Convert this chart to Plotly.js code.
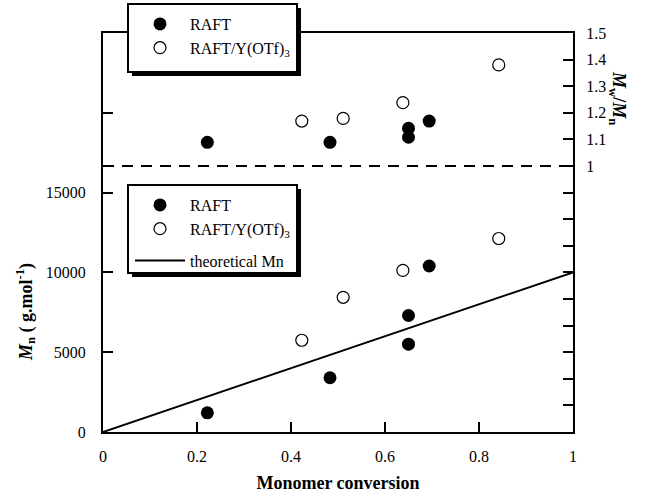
<!DOCTYPE html>
<html><head><meta charset="utf-8">
<script src="https://cdn.plot.ly/plotly-3.0.1.min.js"></script>
<style>body{margin:0;background:#fff}</style>
</head><body>
<div id="chart" style="width:645px;height:495px"></div>
<script>
// Data
const conversionRaft = [0.222, 0.483, 0.650, 0.650, 0.694];
const mnRaft = [1200, 3400, 5500, 7300, 10400];
const pdiRaft = [1.089, 1.089, 1.108, 1.142, 1.169];
const conversionY = [0.423, 0.511, 0.638, 0.842];
const mnY = [5750, 8440, 10125, 12125];
const pdiY = [1.169, 1.179, 1.238, 1.380];
const theoryX = [0, 1];
const theoryMn = [0, 10000];
const refX = [0, 1];
const refPdi = [1, 1];
const xTicks = [0, 0.2, 0.4, 0.6, 0.8, 1];
const xTickText = ['0', '0.2', '0.4', '0.6', '0.8', '1'];
const yTicks = [0, 5000, 10000, 15000, 20000];
const yTickText = ['0', '5000', '10000', '15000', ''];
const y2Ticks = [0,0.1,0.2,0.3,0.4,0.5,0.6,0.7,0.8,0.9,1,1.1,1.2,1.3,1.4,1.5];
const y2TickText = ['','','','','','','','','','','1','1.1','1.2','1.3','1.4','1.5'];

const F = 'Liberation Serif, Times New Roman, serif';
const W = 645, H = 495;
const px = p => (p - 103) / 470, py = p => (432 - p) / 399;

const filled = {color: 'black', size: 13, symbol: 'circle'};
const open = {color: 'black', size: 12, symbol: 'circle-open', line: {width: 1.2, color: 'black'}};

const traces = [
  {x: refX, y: refPdi, yaxis: 'y2', mode: 'lines', line: {color: 'black', width: 2, dash: '11px,8px'}, showlegend: false, hoverinfo: 'skip'},
  {x: theoryX, y: theoryMn, mode: 'lines', name: 'theoretical Mn', line: {color: 'black', width: 2}, legend: 'legend2', legendgroup: 'th', legendrank: 3},
  {x: conversionRaft, y: mnRaft, mode: 'markers', name: 'RAFT', marker: filled, legend: 'legend2', legendgroup: 'pts', legendrank: 1},
  {x: conversionY, y: mnY, mode: 'markers', name: 'RAFT/Y(OTf)<sub>3</sub>', marker: open, legend: 'legend2', legendgroup: 'pts', legendrank: 2},
  {x: conversionRaft, y: pdiRaft, yaxis: 'y2', mode: 'markers', name: 'RAFT', marker: filled, legend: 'legend', legendrank: 1},
  {x: conversionY, y: pdiY, yaxis: 'y2', mode: 'markers', name: 'RAFT/Y(OTf)<sub>3</sub>', marker: open, legend: 'legend', legendrank: 2}
];

const axisCommon = {
  ticks: 'inside', ticklen: 10, tickwidth: 2, tickcolor: 'black',
  showline: true, linewidth: 2, linecolor: 'black',
  showgrid: false, zeroline: false,
  tickfont: {family: F, size: 16, color: 'black'}
};

function box(x0, y0, x1, y1) {
  return [
    {type: 'rect', xref: 'paper', yref: 'paper', layer: 'above',
     x0: px(x0 + 4), x1: px(x1 + 4), y0: py(y1 + 4), y1: py(y0 + 4),
     fillcolor: 'black', line: {width: 0}},
    {type: 'rect', xref: 'paper', yref: 'paper', layer: 'above',
     x0: px(x0), x1: px(x1), y0: py(y1), y1: py(y0),
     fillcolor: 'white', line: {width: 2, color: 'black'}}
  ];
}

const legendCommon = {
  bgcolor: 'rgba(0,0,0,0)', borderwidth: 0,
  font: {family: F, size: 16, color: 'black'},
  xref: 'paper', yref: 'paper', xanchor: 'left', yanchor: 'top', itemwidth: 50
};

const layout = {
  width: W, height: H,
  margin: {l: 103, r: 72, t: 33, b: 63, autoexpand: false},
  paper_bgcolor: 'white', plot_bgcolor: 'white',
  showlegend: true,
  xaxis: Object.assign({}, axisCommon, {
    range: [0, 1], tickvals: xTicks, ticktext: xTickText, mirror: true, ticklabelstandoff: 9,
    title: {text: '<b>Monomer conversion</b>', font: {family: F, size: 18, color: 'black'}, standoff: 12}
  }),
  yaxis: Object.assign({}, axisCommon, {
    range: [0, 25000], tickvals: yTicks, ticktext: yTickText, ticklabelstandoff: 12
  }),
  yaxis2: Object.assign({}, axisCommon, {
    overlaying: 'y', side: 'right', range: [0, 1.5], tickvals: y2Ticks, ticktext: y2TickText, ticklabelstandoff: 8
  }),
  legend: Object.assign({}, legendCommon, {x: px(130), y: py(7), traceorder: 'normal'}),
  legend2: Object.assign({}, legendCommon, {x: px(130), y: py(188), traceorder: 'grouped', tracegroupgap: 8}),
  shapes: [].concat(box(128, 4, 297, 72), box(128, 185, 297, 273)),
  annotations: [
    {xref: 'paper', yref: 'paper', x: px(25), y: py(312), xanchor: 'center', yanchor: 'middle', showarrow: false, textangle: -90,
     text: '<b><i>M</i><sub>n</sub> ( g.mol<sup>-1</sup>)</b>', font: {family: F, size: 18, color: 'black'}},
    {xref: 'paper', yref: 'paper', x: px(618), y: py(98), xanchor: 'center', yanchor: 'middle', showarrow: false, textangle: 90,
     text: '<b><i>M</i><sub>w</sub>/<i>M</i><sub>n</sub></b>', font: {family: F, size: 18, color: 'black'}}
  ]
};

Plotly.newPlot('chart', traces, layout, {displayModeBar: false, staticPlot: true});
</script>
</body></html>
